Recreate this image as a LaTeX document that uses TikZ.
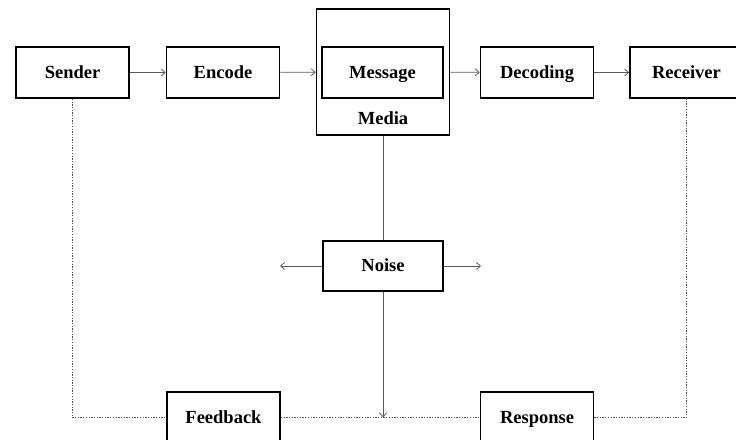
\documentclass[tikz,border=0pt]{standalone}
\usepackage{fontspec}
\setmainfont{Liberation Serif}
\usepackage{tikz}
\usetikzlibrary{arrows.meta}

\begin{document}
\begin{tikzpicture}[x=1pt,y=-1pt]
		\useasboundingbox (0,0) rectangle (736,439);
		\clip (0,0) rectangle (736,439);
		\begin{scope}[every node/.style={rectangle,draw,line width=1.6pt,minimum width=113pt,minimum height=51pt,inner sep=0pt,text height=11pt,text depth=0pt,font=\fontsize{18.5}{20}\selectfont\bfseries}]
			\node (sender) at (72.5,72.5) {Sender};
			\node (encode) at (223,72.5) {Encode};
			\node (media) [minimum width=133pt,minimum height=126pt] at (383,72) {};
			\node (message) [minimum width=121pt] at (382.5,72.5) {Message};
			\node (decoding) at (537,72.5) {Decoding};
			\node (receiver) at (686.5,72.5) {Receiver};
			\node (noise) [minimum width=120pt,minimum height=50pt] at (383,266) {Noise};
			\node (feedback) at (223.5,417.5) {Feedback};
			\node (response) at (537,417.5) {Response};
		\end{scope}
		\node (medialbl) [font=\fontsize{18.5}{20}\selectfont\bfseries] at (383,118) {Media};
		\coordinate (nl) at (280,266);
		\coordinate (nr) at (481,266);
		\coordinate (nz) at (noise.south |- feedback.west);
		
		\begin{scope}[>={Straight Barb[length=4pt,width=7pt]},
			every edge/.style={draw=gray!70!black,line width=0.8pt}]
			\path [->] (sender) edge (encode);
			\path [->] (encode) edge (media);
			\path [->] (media) edge (decoding);
			\path [->] (decoding) edge (receiver);
			\path (media) edge (noise);
			\path [->] (noise) edge (nl);
			\path [->] (noise) edge (nr);
			\path [->] (noise) edge (nz);
		\end{scope}
		
		\begin{scope}[draw=gray!60!black,line width=1.3pt,dash pattern=on 1.3pt off 1.4pt]
			\draw (sender) |- (feedback);
			\draw (feedback) -- (response);
			\draw (response) -| (receiver);
		\end{scope}
	\end{tikzpicture}
\end{document}
